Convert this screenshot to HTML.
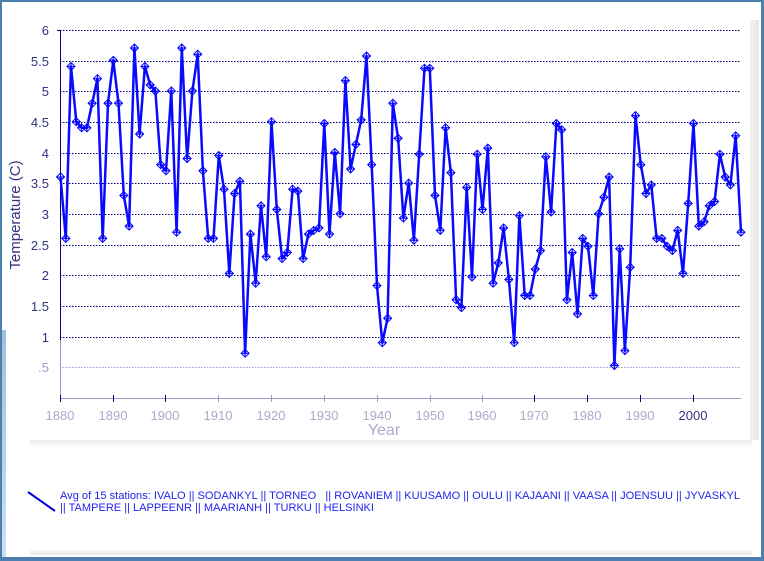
<!DOCTYPE html>
<html><head><meta charset="utf-8"><style>
html,body{margin:0;padding:0}
body{width:764px;height:561px;overflow:hidden;background:#4a7fb0;position:relative;font-family:"Liberation Sans",sans-serif}
#in{position:absolute;left:2px;top:2px;width:759px;height:555px;background:#fff}
#sh{position:absolute;left:750px;top:20px;width:9px;height:420px;background:linear-gradient(90deg,#f2f2f2,#e6e6e6)}
#bb{position:absolute;left:30px;top:440px;width:722px;height:6px;background:linear-gradient(#ececec,#f8f8f8)}
#lb{position:absolute;left:30px;top:550px;width:722px;height:5px;background:linear-gradient(#f6f6f6,#e8e8e8)}
#lft{position:absolute;left:2px;top:330px;width:4px;height:227px;background:linear-gradient(#9fc0da,#cfe0ee)}
svg{position:absolute;left:0;top:0}
</style></head><body>
<div id="in"></div><div id="sh"></div><div id="bb"></div><div id="lb"></div><div id="lft"></div>
<svg id="s" width="764" height="561" viewBox="0 0 764 561">
<defs>
<g id="mk" fill="none" stroke="#0000ff" stroke-width="1">
<path d="M-4,0 L0,4 L4,0 L0,-4 Z M-4,0 L4,0 M0,-4 L0,4"/>
</g>
</defs>
<g stroke="#000080" stroke-width="1" stroke-dasharray="1.5,1.5">
<line x1="60" y1="30.5" x2="740" y2="30.5"/><line x1="60" y1="61.5" x2="740" y2="61.5"/>
<line x1="60" y1="91.5" x2="740" y2="91.5"/><line x1="60" y1="122.5" x2="740" y2="122.5"/>
<line x1="60" y1="153.5" x2="740" y2="153.5"/><line x1="60" y1="183.5" x2="740" y2="183.5"/>
<line x1="60" y1="214.5" x2="740" y2="214.5"/><line x1="60" y1="245.5" x2="740" y2="245.5"/>
<line x1="60" y1="275.5" x2="740" y2="275.5"/><line x1="60" y1="306.5" x2="740" y2="306.5"/>
<line x1="60" y1="337.5" x2="740" y2="337.5"/>
<line x1="60" y1="367.5" x2="740" y2="367.5" stroke="#9999cc"/>
</g>
<line x1="60.5" y1="30" x2="60.5" y2="340" stroke="#000080"/>
<line x1="60.5" y1="340" x2="60.5" y2="398" stroke="#9999cc"/>
<line x1="57" y1="30.5" x2="60" y2="30.5" stroke="#000080"/>
<line x1="60" y1="398.5" x2="741" y2="398.5" stroke="#9999cc"/>
<g stroke="#000080">
<line x1="60.5" y1="395" x2="60.5" y2="402"/><line x1="113.5" y1="395" x2="113.5" y2="402"/>
<line x1="165.5" y1="395" x2="165.5" y2="402"/><line x1="218.5" y1="395" x2="218.5" y2="402" stroke="#9999cc"/>
<line x1="271.5" y1="395" x2="271.5" y2="402" stroke="#9999cc"/><line x1="324.5" y1="395" x2="324.5" y2="402" stroke="#9999cc"/>
<line x1="377.5" y1="395" x2="377.5" y2="402" stroke="#9999cc"/><line x1="430.5" y1="395" x2="430.5" y2="402" stroke="#9999cc"/>
<line x1="482.5" y1="395" x2="482.5" y2="402" stroke="#9999cc"/><line x1="534.5" y1="395" x2="534.5" y2="402"/>
<line x1="587.5" y1="395" x2="587.5" y2="402"/><line x1="640.5" y1="395" x2="640.5" y2="402"/>
<line x1="693.5" y1="395" x2="693.5" y2="402"/>
</g>
<g font-size="13" fill="#333380" text-anchor="end">
<text x="49" y="35">6</text><text x="49" y="66">5.5</text><text x="49" y="96">5</text>
<text x="49" y="127">4.5</text><text x="49" y="158">4</text><text x="49" y="188">3.5</text>
<text x="49" y="219">3</text><text x="49" y="250">2.5</text><text x="49" y="280">2</text>
<text x="49" y="311">1.5</text><text x="49" y="342">1</text><text x="49" y="372" fill="#9999cc">.5</text>
</g>
<g font-size="13" fill="#aaaacc" text-anchor="middle">
<text x="60" y="420">1880</text><text x="113" y="420">1890</text><text x="165" y="420">1900</text>
<text x="218" y="420">1910</text><text x="271" y="420">1920</text><text x="324" y="420">1930</text>
<text x="377" y="420">1940</text><text x="430" y="420">1950</text><text x="482" y="420">1960</text>
<text x="534" y="420">1970</text><text x="587" y="420">1980</text><text x="640" y="420">1990</text>
<text x="693" y="420" fill="#333380">2000</text>
</g>
<text x="384" y="435" font-size="16" fill="#aaaacc" text-anchor="middle">Year</text>
<text transform="translate(20,215) rotate(-90)" font-size="15" fill="#333380" text-anchor="middle">Temperature (C)</text>
<polyline id="pl" fill="none" stroke="#0a0aff" stroke-width="2.5" stroke-linejoin="round" points=""/>
<g id="mks"></g>
<line x1="28" y1="492" x2="55" y2="511" stroke="#0000e0" stroke-width="2"/>
<g font-size="11" fill="#2222ee">
<text x="60" y="499" textLength="680" lengthAdjust="spacingAndGlyphs">Avg of 15 stations: IVALO || SODANKYL || TORNEO &#160; || ROVANIEM || KUUSAMO || OULU || KAJAANI || VAASA || JOENSUU || JYVASKYL</text>
<text x="60" y="511" textLength="314" lengthAdjust="spacingAndGlyphs">|| TAMPERE || LAPPEENR || MAARIANH || TURKU || HELSINKI</text>
</g>
</svg>
<script>
var d=[3.6,2.6,5.4,4.5,4.4,4.4,4.8,5.2,2.6,4.8,5.5,4.8,3.3,2.8,5.7,4.3,5.4,5.1,5.0,3.8,3.7,5.0,2.7,5.7,3.9,5.0,5.6,3.7,2.6,2.6,3.95,3.4,2.03,3.33,3.53,0.73,2.67,1.87,3.13,2.3,4.5,3.07,2.27,2.37,3.4,3.37,2.27,2.67,2.73,2.77,4.47,2.67,4.0,3.0,5.17,3.73,4.13,4.53,5.57,3.8,1.83,0.9,1.3,4.8,4.23,2.93,3.5,2.57,3.97,5.37,5.37,3.3,2.73,4.4,3.67,1.6,1.47,3.43,1.97,3.97,3.07,4.07,1.87,2.2,2.77,1.93,0.9,2.97,1.67,1.67,2.1,2.4,3.93,3.03,4.47,4.37,1.6,2.37,1.37,2.6,2.47,1.67,3.0,3.27,3.6,0.53,2.43,0.77,2.13,4.6,3.8,3.33,3.47,2.6,2.6,2.47,2.4,2.73,2.03,3.17,4.47,2.8,2.87,3.13,3.2,3.97,3.6,3.47,4.27,2.7];
var ns="http://www.w3.org/2000/svg",pts=[],g=document.getElementById("mks");
for(var i=0;i<d.length;i++){var x=60.5+i*5.275,y=398-d[i]*61.4;pts.push(x.toFixed(1)+","+y.toFixed(1));
var u=document.createElementNS(ns,"use");u.setAttribute("href","#mk");u.setAttributeNS("http://www.w3.org/1999/xlink","xlink:href","#mk");
u.setAttribute("transform","translate("+x.toFixed(1)+","+y.toFixed(1)+")");g.appendChild(u);}
document.getElementById("pl").setAttribute("points",pts.join(" "));
</script>
</body></html>
